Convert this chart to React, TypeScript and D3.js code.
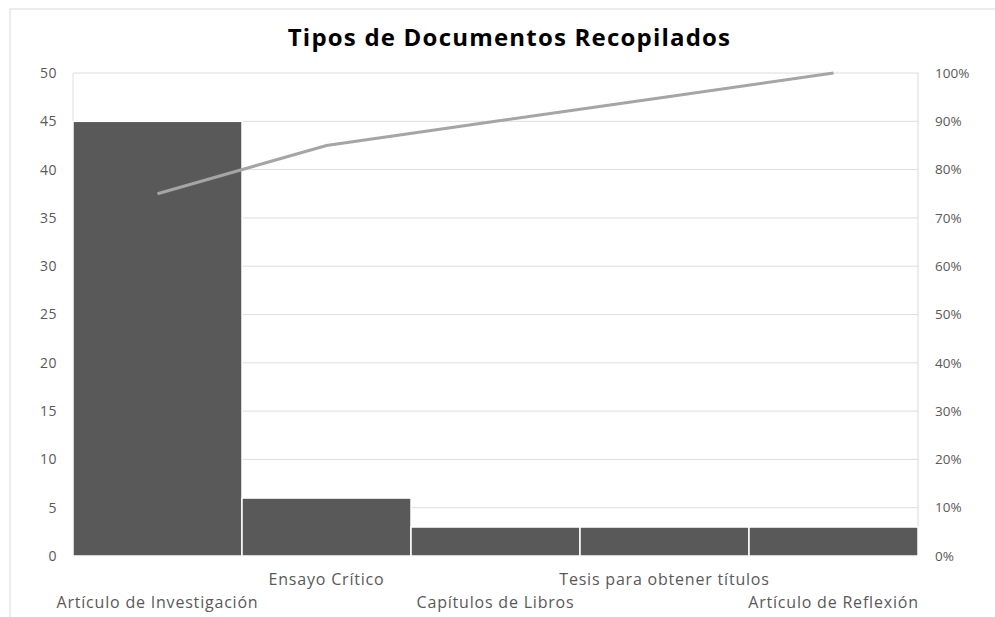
import React from 'react';
import * as d3 from 'd3';

const categories = [
  'Artículo de Investigación',
  'Ensayo Crítico',
  'Capítulos de Libros',
  'Tesis para obtener títulos',
  'Artículo de Reflexión',
];
const counts = [45, 6, 3, 3, 3];
const cumulativePct = [0.75, 0.85, 0.9, 0.95, 1.0];
const leftTicks = [0, 5, 10, 15, 20, 25, 30, 35, 40, 45, 50];
const rightTicks = [0, 0.1, 0.2, 0.3, 0.4, 0.5, 0.6, 0.7, 0.8, 0.9, 1.0];

const W = 995;
const H = 617;
const margin = { top: 73, right: 77, bottom: 61, left: 73 };
const FONT = '"Open Sans", "DejaVu Sans", sans-serif';
const TXT = '#595959';

const App = () => {
  const x = d3
    .scaleBand()
    .domain(categories)
    .range([margin.left, W - margin.right])
    .padding(0);
  const y = d3.scaleLinear().domain([0, 50]).range([H - margin.bottom, margin.top]);
  const y2 = d3.scaleLinear().domain([0, 1]).range([H - margin.bottom, margin.top]);

  const line = d3
    .line<number>()
    .x((_, i) => (x(categories[i]) as number) + x.bandwidth() / 2)
    .y((d) => y2(d));

  const pctFmt = d3.format('.0%');

  return (
    <svg
      width={W}
      height={H}
      style={{ position: 'absolute', left: 0, top: 0, background: '#fff' }}
    >
      <rect x={10} y={9} width={W} height={H} fill="#fff" stroke="#d9d9d9" strokeWidth={1} />

      <text
        x={W / 2 + 12}
        y={46}
        textAnchor="middle"
        fontFamily={FONT}
        fontWeight="bold"
        fontSize={24}
        letterSpacing={1.2}
        fill="#000"
      >
        Tipos de Documentos Recopilados
      </text>

      {/* gridlines */}
      {leftTicks.map((t) => (
        <line
          key={'g' + t}
          x1={margin.left}
          x2={W - margin.right}
          y1={y(t)}
          y2={y(t)}
          stroke="#dedede"
          strokeWidth={1}
        />
      ))}
      <line x1={margin.left} x2={margin.left} y1={margin.top} y2={H - margin.bottom} stroke="#dedede" />
      <line
        x1={W - margin.right}
        x2={W - margin.right}
        y1={margin.top}
        y2={H - margin.bottom}
        stroke="#d9d9d9"
      />

      {/* bars */}
      {counts.map((v, i) => (
        <rect
          key={categories[i]}
          x={x(categories[i])}
          y={y(v)}
          width={x.bandwidth()}
          height={y(0) - y(v)}
          fill="#595959"
          stroke="#fff"
          strokeWidth={1.5}
        />
      ))}

      {/* cumulative line */}
      <path d={line(cumulativePct) || ''} fill="none" stroke="#a5a5a5" strokeWidth={3} />

      {/* left axis */}
      {leftTicks.map((t) => (
        <text
          key={'l' + t}
          x={57}
          y={y(t)}
          dy="0.35em"
          textAnchor="end"
          fontFamily={FONT}
          fontSize={14}
          letterSpacing={0.5}
          fill={TXT}
        >
          {t}
        </text>
      ))}

      {/* right axis */}
      {rightTicks.map((t) => (
        <text
          key={'r' + t}
          x={935}
          y={y2(t)}
          dy="0.35em"
          textAnchor="start"
          fontFamily={FONT}
          fontSize={13.5}
          fill={TXT}
        >
          {pctFmt(t)}
        </text>
      ))}

      {/* category labels, staggered */}
      {categories.map((c, i) => (
        <text
          key={'c' + c}
          x={(x(c) as number) + x.bandwidth() / 2}
          y={i % 2 === 0 ? 608 : 585}
          textAnchor="middle"
          fontFamily={FONT}
          fontSize={16}
          letterSpacing={0.8}
          fill={TXT}
        >
          {c}
        </text>
      ))}
    </svg>
  );
};

export default App;
